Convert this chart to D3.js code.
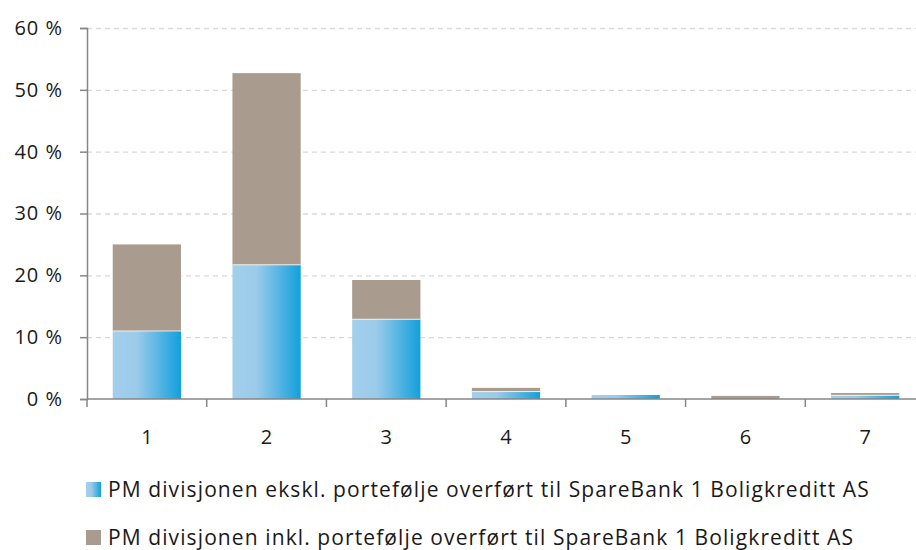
<!DOCTYPE html>
<html>
<head>
<meta charset="utf-8">
<script src="https://cdn.jsdelivr.net/npm/d3@7"></script>
<style>
	body { margin: 0; background: #fff; }
	svg { display: block; font-family: "Open Sans", sans-serif; }
</style>
</head>
<body>
<svg id="chart" width="916" height="550"></svg>
<script>
// Categories along the x axis
const categories = ["1", "2", "3", "4", "5", "6", "7"];

// Blue part: PM divisjonen ekskl. portefølje overført (percent)
const exclValues = [11.0, 21.7, 12.9, 1.2, 0.65, 0.0, 0.6];
// Brown part stacked on top: extra share when the transferred portfolio is included
const inclExtraValues = [14.0, 31.0, 6.35, 0.6, 0.0, 0.5, 0.37];

const yTicks = [0, 10, 20, 30, 40, 50, 60];

const legendLabels = [
	"PM divisjonen ekskl. portefølje overført til SpareBank 1 Boligkreditt AS",
	"PM divisjonen inkl. portefølje overført til SpareBank 1 Boligkreditt AS"
];


function drawChart(svgElement) {
	const svg = d3.select(svgElement);

	// Plot area (the last band runs past the right edge, as in the original)
	const left = 87, right = 925, top = 28, bottom = 399;

	const x = d3.scaleBand()
		.domain(categories)
		.range([left, right])
		.paddingInner(0.43)
		.paddingOuter(0.215);

	const y = d3.scaleLinear()
		.domain([0, 60])
		.range([bottom, top]);

	// Gradient used for the blue segments
	const defs = svg.append("defs");
	const grad = defs.append("linearGradient")
		.attr("id", "blueGrad")
		.attr("x1", "0%").attr("x2", "100%")
		.attr("y1", "0%").attr("y2", "0%");
	grad.append("stop").attr("offset", "0%").attr("stop-color", "#a1cfec");
	grad.append("stop").attr("offset", "35%").attr("stop-color", "#9ccbea");
	grad.append("stop").attr("offset", "100%").attr("stop-color", "#12a0dc");

	// Dashed gridlines
	svg.append("g")
		.selectAll("line")
		.data(yTicks.filter(t => t > 0))
		.join("line")
		.attr("x1", left)
		.attr("x2", right)
		.attr("y1", t => y(t) + .5)
		.attr("y2", t => y(t) + .5)
		.attr("stroke", "#d9d9d9")
		.attr("stroke-width", 1.3)
		.attr("stroke-dasharray", "5,4");

	// Stack the two series
	const rows = categories.map((c, i) => ({ cat: c, excl: exclValues[i], extra: inclExtraValues[i] }));
	const stacked = d3.stack().keys(["excl", "extra"])(rows);
	const fills = { excl: "url(#blueGrad)", extra: "#a99c8f" };

	svg.append("g")
		.selectAll("g")
		.data(stacked)
		.join("g")
		.attr("fill", s => fills[s.key])
		.selectAll("rect")
		.data(s => s)
		.join("rect")
		.attr("x", d => x(d.data.cat))
		.attr("width", x.bandwidth())
		.attr("y", d => y(d[1]))
		.attr("height", d => Math.max(0, y(d[0]) - y(d[1])));

	// Thin white seam between the two segments
	svg.append("g")
		.selectAll("line")
		.data(rows.filter(r => r.excl > 0 && r.extra > 0))
		.join("line")
		.attr("x1", r => x(r.cat))
		.attr("x2", r => x(r.cat) + x.bandwidth())
		.attr("y1", r => y(r.excl))
		.attr("y2", r => y(r.excl))
		.attr("stroke", "#fff")
		.attr("stroke-width", 0.8);

	// Y axis
	const yAxis = svg.append("g")
		.attr("transform", `translate(${left},0)`)
		.call(d3.axisLeft(y).tickValues(yTicks).tickSize(7).tickFormat(t => `${t} %`));
	yAxis.select(".domain").attr("stroke", "#868686").attr("stroke-width", 1.5);
	yAxis.selectAll(".tick line").attr("stroke", "#868686").attr("stroke-width", 1.5);
	yAxis.selectAll(".tick text")
		.attr("x", -24)
		.attr("fill", "#1a1a1a")
		.style("font-size", "20px")
		.style("letter-spacing", "1px")
		.style("font-family", "'Open Sans', sans-serif");

	// X axis: ticks sit on the band boundaries
	const xAxisG = svg.append("g").attr("transform", `translate(0,${bottom})`);
	xAxisG.append("line")
		.attr("x1", left).attr("x2", right)
		.attr("y1", 0).attr("y2", 0)
		.attr("stroke", "#868686").attr("stroke-width", 1.5);
	const step = x.step();
	xAxisG.selectAll("line.tk")
		.data(d3.range(categories.length + 1))
		.join("line")
		.attr("class", "tk")
		.attr("x1", i => left + i * step)
		.attr("x2", i => left + i * step)
		.attr("y1", 0).attr("y2", 8)
		.attr("stroke", "#868686").attr("stroke-width", 1.5);
	xAxisG.selectAll("text")
		.data(categories)
		.join("text")
		.attr("x", c => x(c) + x.bandwidth() / 2)
		.attr("y", 45)
		.attr("text-anchor", "middle")
		.attr("fill", "#1a1a1a")
		.style("font-size", "20px")
		.text(c => c);

	// Legend
	const legend = svg.append("g")
		.selectAll("g")
		.data(legendLabels)
		.join("g")
		.attr("transform", (d, i) => `translate(86,${482 + i * 48})`);
	legend.append("rect")
		.attr("width", 15).attr("height", 15)
		.attr("fill", (d, i) => i === 0 ? "url(#blueGrad)" : "#a99c8f");
	legend.append("text")
		.attr("x", 22)
		.attr("y", 15)
		.attr("fill", "#1a1a1a")
		.style("font-size", "21px")
		.style("letter-spacing", "1.1px")
		.text(d => d);
}

drawChart(document.getElementById("chart"));
</script>
</body>
</html>
